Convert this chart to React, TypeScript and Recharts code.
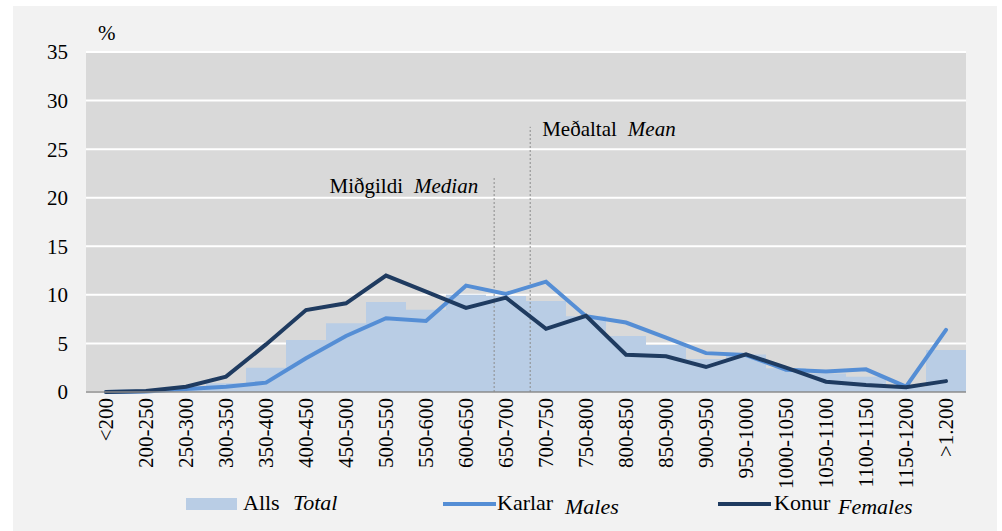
import React from 'react';
import {
  ComposedChart, Bar, Line, XAxis, YAxis, CartesianGrid, ReferenceLine, ReferenceDot, Legend, Customized,
} from 'recharts';

const categories = ['<200', '200-250', '250-300', '300-350', '350-400', '400-450', '450-500', '500-550', '550-600', '600-650', '650-700', '700-750', '750-800', '800-850', '850-900', '900-950', '950-1000', '1000-1050', '1050-1100', '1100-1150', '1150-1200', '>1.200'];
const alls = [0, 0.1, 0.4, 0.9, 2.5, 5.35, 7.07, 9.27, 8.47, 10.0, 9.88, 9.37, 7.8, 5.77, 4.85, 3.4, 3.85, 2.44, 1.9, 1.58, 0.55, 4.32];
const karlar = [0, 0.05, 0.3, 0.55, 0.96, 3.47, 5.76, 7.6, 7.31, 10.95, 10.1, 11.36, 7.8, 7.15, 5.6, 4.0, 3.8, 2.3, 2.1, 2.33, 0.55, 6.4];
const konur = [0, 0.1, 0.55, 1.58, 4.9, 8.44, 9.13, 11.98, 10.33, 8.65, 9.71, 6.5, 7.85, 3.84, 3.67, 2.57, 3.88, 2.5, 1.06, 0.72, 0.48, 1.12];
const yTicks = [0, 5, 10, 15, 20, 25, 30, 35];
const median = { pos: 9.74, top: 22.2, label: 'Miðgildi', labelEn: 'Median' };
const mean = { pos: 10.6, top: 27.3, label: 'Meðaltal', labelEn: 'Mean' };

const data = categories.map((c, i) => ({ cat: c, alls: alls[i], karlar: karlar[i], konur: konur[i] }));

const FONT = '"Liberation Serif", "Times New Roman", serif';
const BAR = '#b9cde5';
const MALE = '#558ed5';
const FEMALE = '#1f3b60';
const FS = 21;
const LFS = 22;

const XTick = (props: any) => {
  const { x, y, payload } = props;
  return (
    <text transform={`translate(${x + 7},${y + 6}) rotate(-90)`} textAnchor="end" fontFamily={FONT} fontSize={FS} fill="#000">
      {payload.value}
    </text>
  );
};

const LegendContent = () => (
  <svg width={984} height={49} style={{ display: 'block' }}>
    <rect x={173} y={16} width={51} height={12} fill={BAR} />
    <text x={230} y={28} fontFamily={FONT} fontSize={LFS} fill="#000">Alls</text>
    <text x={280} y={28} fontFamily={FONT} fontSize={LFS} fontStyle="italic" fill="#000">Total</text>
    <line x1={430} y1={22} x2={483} y2={22} stroke={MALE} strokeWidth={4} />
    <text x={484} y={28} fontFamily={FONT} fontSize={LFS} fill="#000">Karlar</text>
    <text x={552} y={32} fontFamily={FONT} fontSize={LFS} fontStyle="italic" fill="#000">Males</text>
    <line x1={705} y1={22} x2={758} y2={22} stroke={FEMALE} strokeWidth={4} />
    <text x={761} y={28} fontFamily={FONT} fontSize={LFS} fill="#000">Konur</text>
    <text x={825} y={32} fontFamily={FONT} fontSize={LFS} fontStyle="italic" fill="#000">Females</text>
  </svg>
);

const Percent = () => (
  <text x={85} y={34} fontFamily={FONT} fontSize={FS} fill="#000">%</text>
);

const MedianLabel = (props: any) => (
  <text x={props.cx - 16} y={props.cy + 17} textAnchor="end" fontFamily={FONT} fontSize={FS} fill="#000">
    <tspan>{median.label}</tspan>
    <tspan dx={11} fontStyle="italic">{median.labelEn}</tspan>
  </text>
);

const MeanLabel = (props: any) => (
  <text x={props.cx + 12} y={props.cy + 9} textAnchor="start" fontFamily={FONT} fontSize={FS} fill="#000">
    <tspan>{mean.label}</tspan>
    <tspan dx={11} fontStyle="italic">{mean.labelEn}</tspan>
  </text>
);

export default function App() {
  return (
    <div style={{ position: 'absolute', left: 13, top: 6, width: 984, height: 525, background: '#f2f2f2' }}>
      <ComposedChart
        width={984}
        height={525}
        data={data}
        margin={{ top: 46, right: 31, bottom: 0, left: 0 }}
        barCategoryGap={0}
        barGap={0}
      >
        <CartesianGrid horizontal vertical={false} stroke="#ffffff" strokeWidth={2} fill="#d9d9d9" />
        <XAxis
          dataKey="cat"
          interval={0}
          tick={<XTick />}
          tickLine={false}
          tickSize={0}
          tickMargin={0}
          axisLine={{ stroke: '#8a8a8a', strokeWidth: 1.5 }}
          height={90}
        />
        <XAxis xAxisId="num" type="number" domain={[-0.5, 21.5]} hide allowDataOverflow />
        <YAxis
          domain={[0, 35]}
          ticks={yTicks}
          width={73}
          axisLine={false}
          tickLine={false}
          tickSize={0}
          tickMargin={18}
          tick={{ fontFamily: FONT, fontSize: FS, fill: '#000' }}
        />
        <Bar dataKey="alls" fill={BAR} isAnimationActive={false} />
        <ReferenceLine
          xAxisId="num"
          segment={[{ x: median.pos, y: 0 }, { x: median.pos, y: median.top }]}
          stroke="#8c8c8c"
          strokeDasharray="2 2"
          strokeWidth={1}
        />
        <ReferenceLine
          xAxisId="num"
          segment={[{ x: mean.pos, y: 0 }, { x: mean.pos, y: mean.top }]}
          stroke="#8c8c8c"
          strokeDasharray="2 2"
          strokeWidth={1}
        />
        <Line dataKey="karlar" stroke={MALE} strokeWidth={4} dot={false} strokeLinecap="round" isAnimationActive={false} />
        <Line dataKey="konur" stroke={FEMALE} strokeWidth={4} dot={false} strokeLinecap="round" isAnimationActive={false} />
        <ReferenceDot xAxisId="num" x={median.pos} y={median.top} r={0} shape={MedianLabel} />
        <ReferenceDot xAxisId="num" x={mean.pos} y={mean.top} r={0} shape={MeanLabel} />
        <Customized component={Percent} />
        <Legend verticalAlign="bottom" content={LegendContent} wrapperStyle={{ left: 0, width: 984, height: 49 }} />
      </ComposedChart>
    </div>
  );
}
